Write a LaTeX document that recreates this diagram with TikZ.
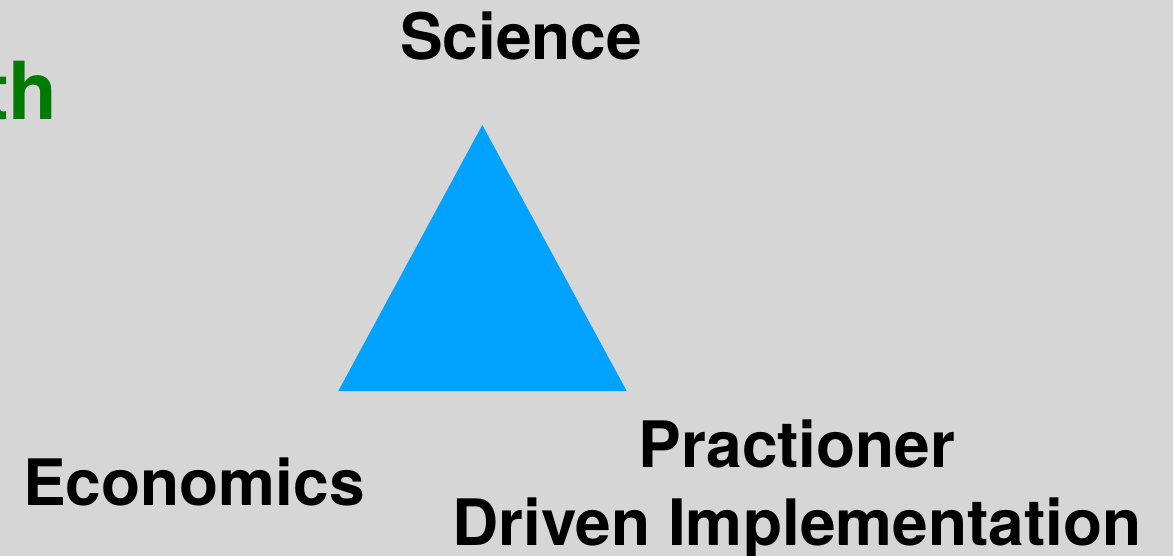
\documentclass[tikz,border=0pt]{standalone}
\usepackage{fontspec}
\setmainfont{TeX Gyre Heros}
\definecolor{bggray}{HTML}{D6D6D6}
\definecolor{triblue}{HTML}{00A2FF}
\definecolor{darkgreen}{HTML}{007A00}
\begin{document}
\begin{tikzpicture}[x=1pt,y=-1pt,
  lbl/.style={inner sep=0pt,anchor=base,font=\bfseries\fontsize{64}{77}\selectfont,text=black}]
\fill[bggray] (0,0) rectangle (1173,556);
\useasboundingbox (0,0) rectangle (1173,556);
\begin{scope}
\clip (0,0) rectangle (1173,556);
\node[lbl,anchor=base east,text=darkgreen,font=\bfseries\fontsize{80}{96}\selectfont] (partial) at (58,120) {th};
\end{scope}
\coordinate (apex) at (482.3,125);
\coordinate (bl) at (338.3,391);
\coordinate (br) at (626.7,391);
\fill[triblue] (apex) -- (bl) -- (br) -- cycle;
\node[lbl] (science) at (521,60) {Science};
\node[lbl] (econ) at (194,505) {Economics};
\node[lbl] (prac1) at (797,467) {Practioner};
\node[lbl] (prac2) at (797,545) {Driven Implementation};
\end{tikzpicture}
\end{document}
